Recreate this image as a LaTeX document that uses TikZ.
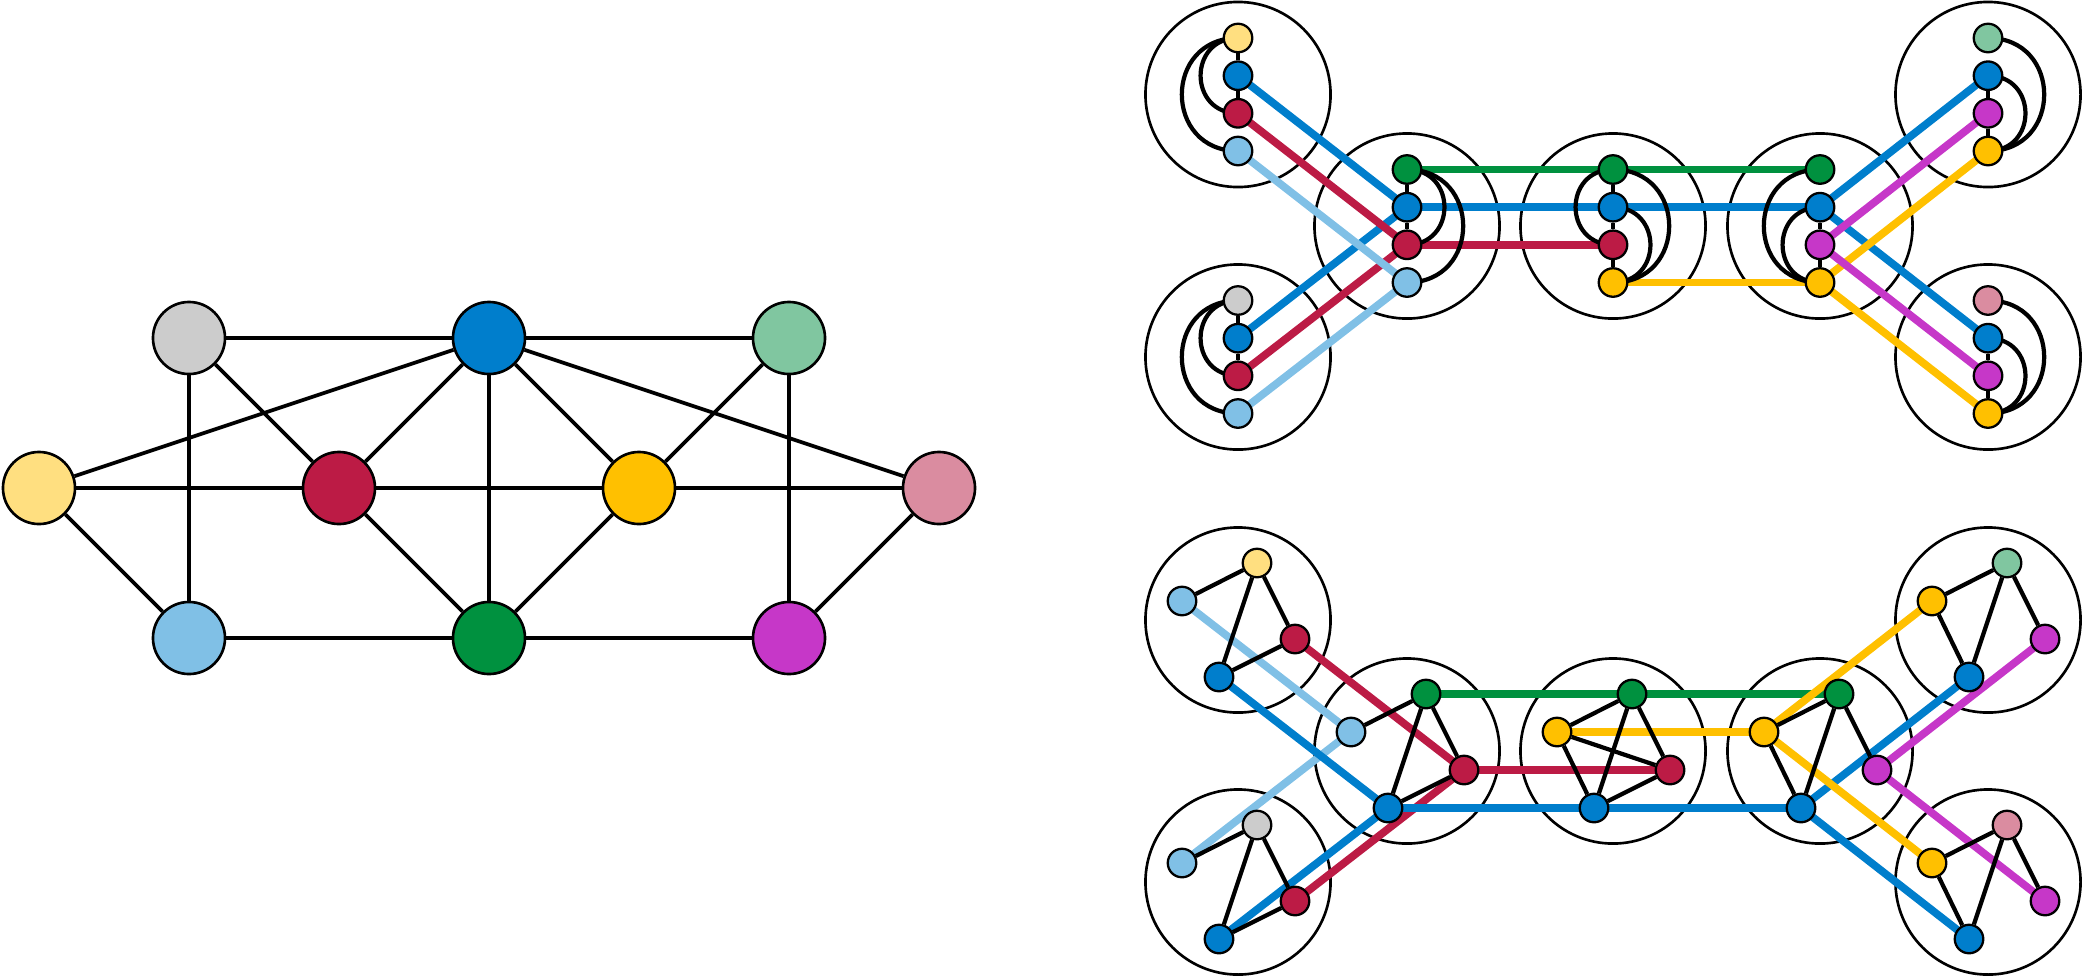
\documentclass[tikz,border=0pt]{standalone}
\pgfdeclarelayer{bags}
\pgfdeclarelayer{bands}
\pgfdeclarelayer{edges}
\pgfsetlayers{bags,bands,edges,main}
\definecolor{cYe}{HTML}{FFDF80}
\definecolor{cBl}{HTML}{007ECC}
\definecolor{cRd}{HTML}{BC1B45}
\definecolor{cGn}{HTML}{00913F}
\definecolor{cLg}{HTML}{80C6A0}
\definecolor{cOr}{HTML}{FFC000}
\definecolor{cPk}{HTML}{DA8CA0}
\definecolor{cLb}{HTML}{80C0E6}
\definecolor{cMg}{HTML}{C637C8}
\definecolor{cGy}{HTML}{CCCCCC}
\tikzset{
  big/.style={circle, draw=black, line width=0.75pt, minimum size=0.72cm, inner sep=0pt},
  sm/.style={circle, draw=black, line width=0.65pt, minimum size=0.285cm, inner sep=0pt},
  gedge/.style={line width=1.05pt},
  cedge/.style={line width=1.2pt},
  band/.style={line width=2.2pt},
  bag/.style={circle, draw=black, line width=0.75pt, minimum size=1.85cm, inner sep=0pt}
}
\newcommand\vbag[7]{%
  \node[sm,fill=#4] (#1a) at (#2,#3-56.5) {};
  \node[sm,fill=#5] (#1b) at (#2,#3-18.8) {};
  \node[sm,fill=#6] (#1c) at (#2,#3+18.8) {};
  \node[sm,fill=#7] (#1d) at (#2,#3+56.5) {};
}
\newcommand\rbag[7]{%
  \node[sm,fill=#4] (#1L) at (#2-56,#3-19) {};
  \node[sm,fill=#5] (#1T) at (#2+19,#3-57) {};
  \node[sm,fill=#6] (#1R) at (#2+57,#3+19) {};
  \node[sm,fill=#7] (#1D) at (#2-19,#3+57) {};
}
\begin{document}
\begin{tikzpicture}[x=0.01cm,y=-0.01cm]
\useasboundingbox (0,0) rectangle (2085,978);

% ---------------- left graph ----------------
\node[big,fill=cGy] (Lgy) at (189,338) {};
\node[big,fill=cBl] (Lbl) at (489,338) {};
\node[big,fill=cLg] (Llg) at (789,338) {};
\node[big,fill=cYe] (Lye) at (39,488) {};
\node[big,fill=cRd] (Lrd) at (339,488) {};
\node[big,fill=cOr] (Lor) at (639,488) {};
\node[big,fill=cPk] (Lpk) at (939,488) {};
\node[big,fill=cLb] (Llb) at (189,638) {};
\node[big,fill=cGn] (Lgn) at (489,638) {};
\node[big,fill=cMg] (Lmg) at (789,638) {};
\begin{pgfonlayer}{edges}
\draw[gedge] (Lgy) -- (Lbl);
\draw[gedge] (Lbl) -- (Llg);
\draw[gedge] (Lye) -- (Lrd);
\draw[gedge] (Lrd) -- (Lor);
\draw[gedge] (Lor) -- (Lpk);
\draw[gedge] (Llb) -- (Lgn);
\draw[gedge] (Lgn) -- (Lmg);
\draw[gedge] (Lgy) -- (Llb);
\draw[gedge] (Lbl) -- (Lgn);
\draw[gedge] (Llg) -- (Lmg);
\draw[gedge] (Lgy) -- (Lrd);
\draw[gedge] (Lrd) -- (Lbl);
\draw[gedge] (Lbl) -- (Lor);
\draw[gedge] (Lor) -- (Llg);
\draw[gedge] (Lye) -- (Llb);
\draw[gedge] (Lrd) -- (Lgn);
\draw[gedge] (Lgn) -- (Lor);
\draw[gedge] (Lmg) -- (Lpk);
\draw[gedge] (Lye) -- (Lbl);
\draw[gedge] (Lbl) -- (Lpk);
\end{pgfonlayer}

% ---------------- top decomposition ----------------
\begin{pgfonlayer}{bags}
\node[bag] (CT1) at (1238,94.5) {};
\node[bag] (CT2) at (1238,357) {};
\node[bag] (CT3) at (1407,226) {};
\node[bag] (CT4) at (1613,226) {};
\node[bag] (CT5) at (1820,226) {};
\node[bag] (CT6) at (1988,94.5) {};
\node[bag] (CT7) at (1988,357) {};
\end{pgfonlayer}
\vbag{T1}{1238}{94.5}{cYe}{cBl}{cRd}{cLb}
\vbag{T2}{1238}{357}{cGy}{cBl}{cRd}{cLb}
\vbag{T3}{1407}{226}{cGn}{cBl}{cRd}{cLb}
\vbag{T4}{1613}{226}{cGn}{cBl}{cRd}{cOr}
\vbag{T5}{1820}{226}{cGn}{cBl}{cMg}{cOr}
\vbag{T6}{1988}{94.5}{cLg}{cBl}{cMg}{cOr}
\vbag{T7}{1988}{357}{cPk}{cBl}{cMg}{cOr}
\begin{pgfonlayer}{bands}
\draw[band,cBl] (T1b.center) -- (T3b.center);
\draw[band,cBl] (T2b.center) -- (T3b.center);
\draw[band,cBl] (T3b.center) -- (T4b.center) -- (T5b.center);
\draw[band,cBl] (T5b.center) -- (T6b.center);
\draw[band,cBl] (T5b.center) -- (T7b.center);
\draw[band,cRd] (T1c.center) -- (T3c.center);
\draw[band,cRd] (T2c.center) -- (T3c.center);
\draw[band,cRd] (T3c.center) -- (T4c.center);
\draw[band,cLb] (T1d.center) -- (T3d.center);
\draw[band,cLb] (T2d.center) -- (T3d.center);
\draw[band,cGn] (T3a.center) -- (T4a.center) -- (T5a.center);
\draw[band,cOr] (T4d.center) -- (T5d.center);
\draw[band,cOr] (T5d.center) -- (T6d.center);
\draw[band,cOr] (T5d.center) -- (T7d.center);
\draw[band,cMg] (T5c.center) -- (T6c.center);
\draw[band,cMg] (T5c.center) -- (T7c.center);
\end{pgfonlayer}
\begin{pgfonlayer}{edges}
% T1
\draw[cedge] (T1a) -- (T1b);
\draw[cedge] (T1b) -- (T1c);
\draw[cedge] (T1a.center) to[out=180,in=180,looseness=1.7] (T1c.center);
\draw[cedge] (T1a.center) to[out=180,in=180,looseness=1.7] (T1d.center);
% T2
\draw[cedge] (T2a) -- (T2b);
\draw[cedge] (T2b) -- (T2c);
\draw[cedge] (T2a.center) to[out=180,in=180,looseness=1.7] (T2c.center);
\draw[cedge] (T2a.center) to[out=180,in=180,looseness=1.7] (T2d.center);
% T3
\draw[cedge] (T3a) -- (T3b);
\draw[cedge] (T3b) -- (T3c);
\draw[cedge] (T3a.center) to[out=0,in=0,looseness=1.7] (T3c.center);
\draw[cedge] (T3a.center) to[out=0,in=0,looseness=1.7] (T3d.center);
% T4
\draw[cedge] (T4a) -- (T4b);
\draw[cedge] (T4b) -- (T4c);
\draw[cedge] (T4c) -- (T4d);
\draw[cedge] (T4a.center) to[out=180,in=180,looseness=1.7] (T4c.center);
\draw[cedge] (T4b.center) to[out=0,in=0,looseness=1.7] (T4d.center);
\draw[cedge] (T4a.center) to[out=0,in=0,looseness=1.7] (T4d.center);
% T5
\draw[cedge] (T5b) -- (T5c);
\draw[cedge] (T5c) -- (T5d);
\draw[cedge] (T5b.center) to[out=180,in=180,looseness=1.7] (T5d.center);
\draw[cedge] (T5a.center) to[out=180,in=180,looseness=1.7] (T5d.center);
% T6
\draw[cedge] (T6b) -- (T6c);
\draw[cedge] (T6c) -- (T6d);
\draw[cedge] (T6b.center) to[out=0,in=0,looseness=1.7] (T6d.center);
\draw[cedge] (T6a.center) to[out=0,in=0,looseness=1.7] (T6d.center);
% T7
\draw[cedge] (T7b) -- (T7c);
\draw[cedge] (T7c) -- (T7d);
\draw[cedge] (T7b.center) to[out=0,in=0,looseness=1.7] (T7d.center);
\draw[cedge] (T7a.center) to[out=0,in=0,looseness=1.7] (T7d.center);
\end{pgfonlayer}

% ---------------- bottom decomposition ----------------
\begin{pgfonlayer}{bags}
\node[bag] (CB1) at (1238,620) {};
\node[bag] (CB2) at (1238,882) {};
\node[bag] (CB3) at (1407,751) {};
\node[bag] (CB4) at (1613,751) {};
\node[bag] (CB5) at (1820,751) {};
\node[bag] (CB6) at (1988,620) {};
\node[bag] (CB7) at (1988,882) {};
\end{pgfonlayer}
\rbag{B1}{1238}{620}{cLb}{cYe}{cRd}{cBl}
\rbag{B2}{1238}{882}{cLb}{cGy}{cRd}{cBl}
\rbag{B3}{1407}{751}{cLb}{cGn}{cRd}{cBl}
\rbag{B4}{1613}{751}{cOr}{cGn}{cRd}{cBl}
\rbag{B5}{1820}{751}{cOr}{cGn}{cMg}{cBl}
\rbag{B6}{1988}{620}{cOr}{cLg}{cMg}{cBl}
\rbag{B7}{1988}{882}{cOr}{cPk}{cMg}{cBl}
\begin{pgfonlayer}{bands}
\draw[band,cLb] (B1L.center) -- (B3L.center);
\draw[band,cLb] (B2L.center) -- (B3L.center);
\draw[band,cRd] (B1R.center) -- (B3R.center);
\draw[band,cRd] (B2R.center) -- (B3R.center);
\draw[band,cRd] (B3R.center) -- (B4R.center);
\draw[band,cBl] (B1D.center) -- (B3D.center);
\draw[band,cBl] (B2D.center) -- (B3D.center);
\draw[band,cBl] (B3D.center) -- (B4D.center) -- (B5D.center);
\draw[band,cBl] (B5D.center) -- (B6D.center);
\draw[band,cBl] (B5D.center) -- (B7D.center);
\draw[band,cGn] (B3T.center) -- (B4T.center) -- (B5T.center);
\draw[band,cOr] (B4L.center) -- (B5L.center);
\draw[band,cOr] (B5L.center) -- (B6L.center);
\draw[band,cOr] (B5L.center) -- (B7L.center);
\draw[band,cMg] (B5R.center) -- (B6R.center);
\draw[band,cMg] (B5R.center) -- (B7R.center);
\end{pgfonlayer}
\begin{pgfonlayer}{edges}
\foreach \b in {B1,B2,B3}{
  \draw[cedge] (\b L) -- (\b T);
  \draw[cedge] (\b T) -- (\b R);
  \draw[cedge] (\b T) -- (\b D);
  \draw[cedge] (\b D) -- (\b R);
}
\draw[cedge] (B4L) -- (B4T);
\draw[cedge] (B4L) -- (B4D);
\draw[cedge] (B4L) -- (B4R);
\draw[cedge] (B4T) -- (B4D);
\draw[cedge] (B4T) -- (B4R);
\draw[cedge] (B4D) -- (B4R);
\foreach \b in {B5,B6,B7}{
  \draw[cedge] (\b L) -- (\b T);
  \draw[cedge] (\b L) -- (\b D);
  \draw[cedge] (\b T) -- (\b D);
  \draw[cedge] (\b T) -- (\b R);
}
\end{pgfonlayer}
\end{tikzpicture}
\end{document}
